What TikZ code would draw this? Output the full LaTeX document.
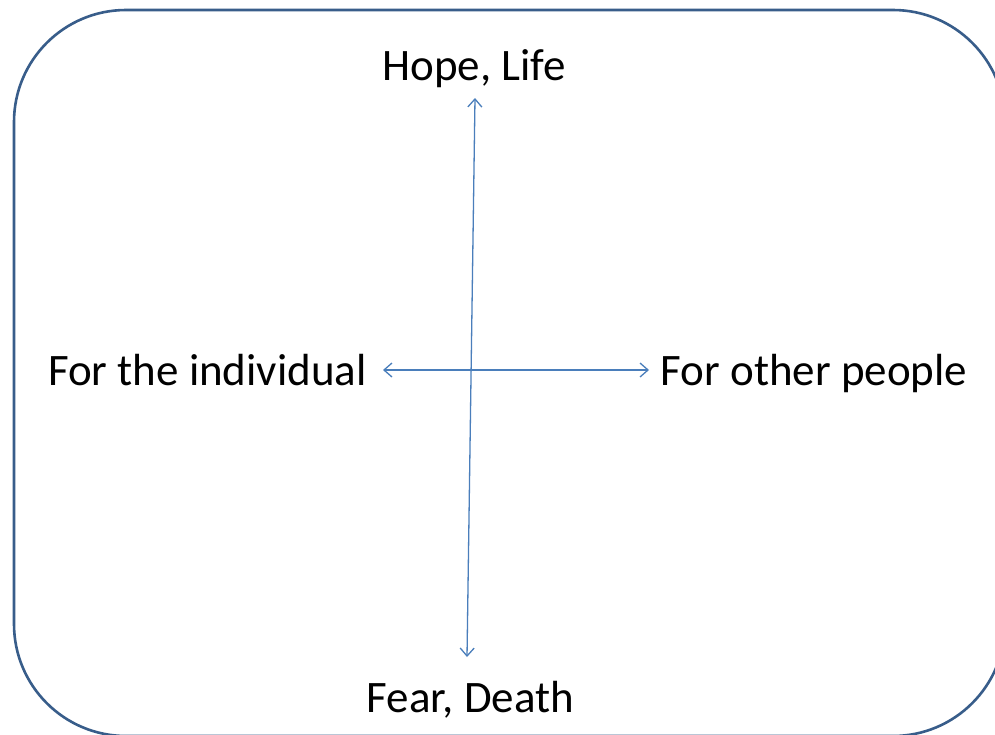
\documentclass[tikz,border=0pt]{standalone}
\usepackage{fontspec}
\setmainfont{Carlito}
\usetikzlibrary{arrows.meta}
\definecolor{frameblue}{RGB}{56,93,138}
\definecolor{arrowblue}{RGB}{74,126,187}
\begin{document}
\begin{tikzpicture}[x=1pt,y=-1pt,
  lbl/.style={anchor=base,inner sep=0pt,font=\fontsize{45}{54}\selectfont,text=black},
  axis/.style={draw=arrowblue,line width=1.3pt,{Straight Barb[length=8pt,width=14pt]}-{Straight Barb[length=8pt,width=14pt]}},
  frame/.style={draw=frameblue,line width=2.6pt,rounded corners=112pt}]
\useasboundingbox (0,0) rectangle (995,734);
\clip (0,0) rectangle (995,734);
\fill[white] (0,0) rectangle (995,734);
\draw[frame] (14,10) rectangle (1005,736);
\node[lbl] (hope) at (474,80) {Hope, Life};
\node[lbl] (fear) at (470.5,712) {Fear, Death};
\node[lbl] (indiv) at (207.5,385) {For the individual};
\node[lbl] (others) at (814,385) {For other people};
\coordinate (top) at (475,98);
\coordinate (bot) at (467,657);
\coordinate (left) at (383,370);
\coordinate (right) at (649,370);
\draw[axis] (bot) -- (top);
\draw[axis] (left) -- (right);
\end{tikzpicture}
\end{document}
